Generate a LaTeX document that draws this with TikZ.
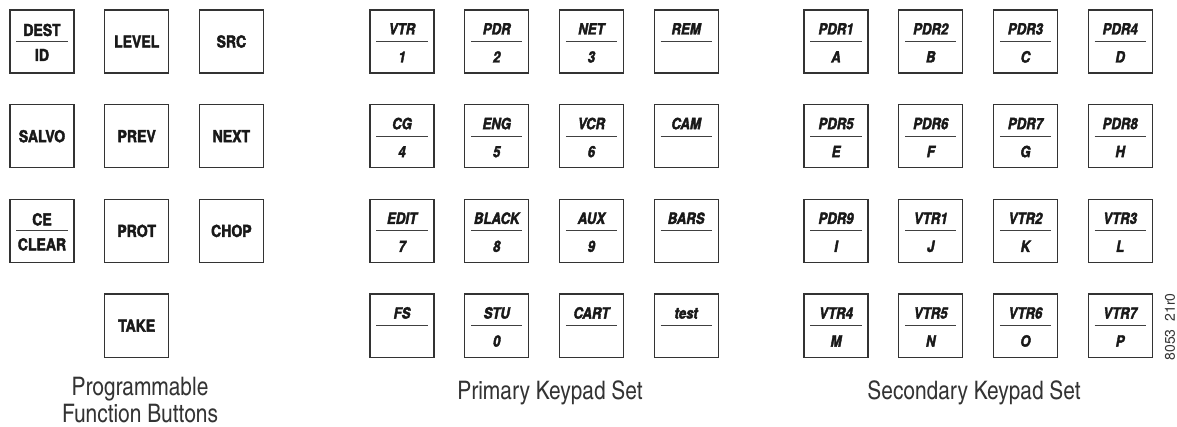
\documentclass[tikz,border=0pt]{standalone}
\usepackage{fontspec}
\setmainfont{texgyreheros}[Extension=.otf, UprightFont=*-regular, BoldFont=*-bold,
  ItalicFont=*-italic, BoldItalicFont=*-bolditalic]
\newfontfamily\keyfont{texgyreheros}[Extension=.otf, UprightFont=*-regular, BoldFont=*-bold,
  ItalicFont=*-italic, BoldItalicFont=*-bolditalic, FakeStretch=0.85, FakeBold=2.4]
\newfontfamily\condfont{texgyreheroscn}[Extension=.otf, UprightFont=*-regular, BoldFont=*-bold,
  ItalicFont=*-italic, BoldItalicFont=*-bolditalic]
\usetikzlibrary{positioning}

\begin{document}
\begin{tikzpicture}[
  x=1pt, y=-1pt,
  key/.style={draw=black!80, line width=1.2pt, minimum width=64pt, minimum height=63pt,
              inner sep=0pt},
  fnlabel/.style={font=\keyfont\bfseries\fontsize{16.5}{18}\selectfont, text=black!90,
                  inner sep=0pt},
  padlabel/.style={font=\keyfont\bfseries\itshape\fontsize{15.5}{17}\selectfont,
                   text=black!90, inner sep=0pt},
  bar/.style={draw=black!75, line width=0.9pt},
  caption/.style={font=\condfont\fontsize{25.5}{27}\selectfont, text=black!80,
                  align=center, inner sep=0pt},
]
\useasboundingbox (0,0) rectangle (1177,427);
% ---- programmable function buttons ----
\foreach \nm/\c/\r/\txt in {level/1/0/LEVEL, src/2/0/SRC, salvo/0/1/SALVO, prev/1/1/PREV,
    next/2/1/NEXT, prot/1/2/PROT, chop/2/2/CHOP, take/1/3/TAKE}
  \node[key, fnlabel] (\nm) at (42+94.7*\c, 41.5+94.7*\r) {\txt};
\foreach \nm/\c/\r/\up/\dn in {dest/0/0/DEST/ID, ce/0/2/CE/CLEAR} {
  \node[key] (\nm) at (42+94.7*\c, 41.5+94.7*\r) {};
  \node[fnlabel, anchor=base] (\nm-up) at ([yshift=5.5pt]\nm.center) {\up};
  \node[fnlabel, anchor=base] (\nm-dn) at ([yshift=-19.5pt]\nm.center) {\dn};
  \draw[bar] ([xshift=7pt]\nm.west) -- ([xshift=-7pt]\nm.east);
}
% ---- primary keypad set ----
\foreach \c/\r/\up/\dn in {0/0/VTR/1, 1/0/PDR/2, 2/0/NET/3, 3/0/REM/{},
    0/1/CG/4, 1/1/ENG/5, 2/1/VCR/6, 3/1/CAM/{},
    0/2/EDIT/7, 1/2/BLACK/8, 2/2/AUX/9, 3/2/BARS/{},
    0/3/FS/{}, 1/3/STU/0, 2/3/CART/{}, 3/3/test/{}} {
  \node[key] (pk-\c-\r) at (402+94.7*\c, 41.5+94.7*\r) {};
  \node[padlabel, anchor=base] (pk-\c-\r-up) at ([yshift=7pt]pk-\c-\r.center) {\up};
  \node[padlabel, anchor=base] (pk-\c-\r-dn) at ([yshift=-21pt]pk-\c-\r.center) {\dn};
  \draw[bar] ([xshift=7pt]pk-\c-\r.west) -- ([xshift=-7pt]pk-\c-\r.east);
}
% ---- secondary keypad set ----
\foreach \c/\r/\up/\dn in {0/0/PDR1/A, 1/0/PDR2/B, 2/0/PDR3/C, 3/0/PDR4/D,
    0/1/PDR5/E, 1/1/PDR6/F, 2/1/PDR7/G, 3/1/PDR8/H,
    0/2/PDR9/I, 1/2/VTR1/J, 2/2/VTR2/K, 3/2/VTR3/L,
    0/3/VTR4/M, 1/3/VTR5/N, 2/3/VTR6/O, 3/3/VTR7/P} {
  \node[key] (sk-\c-\r) at (836+94.7*\c, 41.5+94.7*\r) {};
  \node[padlabel, anchor=base] (sk-\c-\r-up) at ([yshift=7pt]sk-\c-\r.center) {\up};
  \node[padlabel, anchor=base] (sk-\c-\r-dn) at ([yshift=-21pt]sk-\c-\r.center) {\dn};
  \draw[bar] ([xshift=7pt]sk-\c-\r.west) -- ([xshift=-7pt]sk-\c-\r.east);
}
% ---- captions ----
\node[caption, anchor=south] (fncap) at (140, 423) {Programmable\\Function Buttons};
\node[caption, anchor=base] (pcap) at (550, 399) {Primary Keypad Set};
\node[caption, anchor=base] (scap) at (974, 399) {Secondary Keypad Set};
% ---- figure number ----
\node[rotate=90, font=\fontsize{14}{16}\selectfont, text=black!80, inner sep=0pt]
  (fignum) at (1170, 327) {8053\ \ 21r0};
\end{tikzpicture}
\end{document}
